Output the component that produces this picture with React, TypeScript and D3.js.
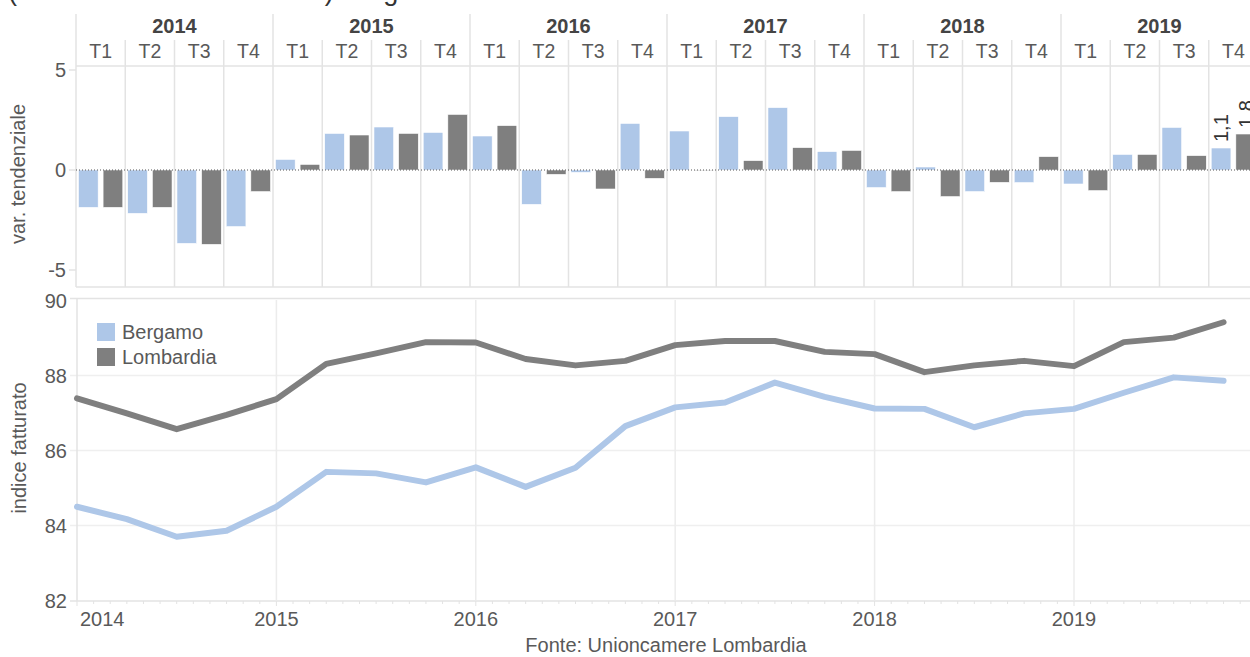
import React from 'react';
import * as d3 from 'd3';

const years = ['2014', '2015', '2016', '2017', '2018', '2019'];
const quarters = ['T1', 'T2', 'T3', 'T4'];
const seriesNames = ['Bergamo', 'Lombardia'];
const seriesColors = ['#aec7e8', '#7f7f7f'];

// variazione tendenziale (%), per trimestre 2014T1..2019T4
const varBergamo = [-1.87, -2.17, -3.67, -2.83, 0.53, 1.83, 2.15, 1.88, 1.7, -1.72, -0.12, 2.33, 1.95, 2.67, 3.12, 0.92, -0.88, 0.15, -1.08, -0.63, -0.7, 0.78, 2.13, 1.1];
const varLombardia = [-1.87, -1.87, -3.72, -1.08, 0.28, 1.75, 1.83, 2.78, 2.22, -0.22, -0.95, -0.42, -0.03, 0.47, 1.12, 0.98, -1.08, -1.33, -0.62, 0.67, -1.03, 0.78, 0.72, 1.8];

// indice fatturato, per trimestre 2014T1..2019T4
const idxBergamo = [84.5, 84.17, 83.7, 83.86, 84.5, 85.43, 85.39, 85.15, 85.55, 85.03, 85.54, 86.65, 87.15, 87.28, 87.81, 87.43, 87.12, 87.11, 86.62, 86.99, 87.11, 87.54, 87.95, 87.86];
const idxLombardia = [87.39, 86.99, 86.57, 86.95, 87.37, 88.31, 88.59, 88.89, 88.88, 88.44, 88.27, 88.39, 88.81, 88.92, 88.92, 88.63, 88.57, 88.09, 88.27, 88.39, 88.25, 88.89, 89.01, 89.42];

const varTicks = [5, 0, -5];
const idxTicks = [82, 84, 86, 88, 90];
const idxGrid = [84, 86, 88];
const timeTicks = [2014, 2015, 2016, 2017, 2018, 2019];
const labelledQuarter = 23;

const FONT = '"Liberation Sans", Arial, sans-serif';
const TXT = '#595959';
const GRID = '#e3e3e3';
const FS = 20;

const it = d3.formatLocale({ decimal: ',', thousands: '.', grouping: [3], currency: ['', '€'] });
const fmt = it.format('.1f');

export default function App() {
  const W = 1250, H = 657;
  // top panel
  const left = 76;
  const qW = 49.25;
  const nQ = years.length * quarters.length;
  const qIdx = d3.range(nQ);
  const xQ = d3.scaleBand<number>().domain(qIdx).range([left, left + nQ * qW]).padding(0);
  const xS = d3.scaleBand<string>().domain(seriesNames).range([0, qW]).paddingInner(0.2).paddingOuter(0.1);
  const yV = d3.scaleLinear().domain([-5, 5]).range([270, 70]);
  const topBottom = 287;
  const headerLine = 66;

  // bottom panel
  const bLeft = 77;
  const xT = d3.scaleLinear().domain([2014, 2020]).range([bLeft, bLeft + 6 * 199.4]);
  const yI = d3.scaleLinear().domain([82, 90]).range([600.5, 300.5]);
  const lineGen = d3.line<number>().x((_, i) => xT(2014 + i / 4)).y((d) => yI(d));
  const months = d3.range(0, 6 * 12 + 1).map((m) => 2014 + m / 12);

  const varSeries = [varBergamo, varLombardia];
  const idxSeries = [idxBergamo, idxLombardia];

  return (
    <svg width={W} height={H} style={{ position: 'absolute', left: 0, top: 0, background: '#fff' }} fontFamily={FONT}>
      {/* cropped title */}
      <text x={8} y={-0.5} fontSize={27} fill="#333">(indice fatturato industriale) Bergamo</text>

      {/* ===== TOP PANEL ===== */}
      {years.map((y, i) => {
        const x0 = xQ(i * 4)!;
        return (
          <g key={y}>
            <line x1={x0} x2={x0} y1={14} y2={topBottom} stroke={GRID} strokeWidth={1.5} />
            <text x={x0 + 2 * qW} y={33} textAnchor="middle" fontSize={FS} fontWeight="bold" fill="#444">{y}</text>
          </g>
        );
      })}
      {qIdx.map((q) => {
        const x0 = xQ(q)!;
        return (
          <g key={q}>
            {q % 4 !== 0 && <line x1={x0} x2={x0} y1={40} y2={topBottom} stroke={GRID} strokeWidth={1.5} />}
            <text x={x0 + qW / 2} y={58} textAnchor="middle" fontSize={19.5} fill={TXT}>{quarters[q % 4]}</text>
          </g>
        );
      })}
      <line x1={left} x2={W} y1={headerLine} y2={headerLine} stroke={GRID} strokeWidth={1.5} />
      <line x1={left} x2={W} y1={topBottom} y2={topBottom} stroke={GRID} strokeWidth={1.5} />

      {varTicks.map((t) => (
        <g key={t}>
          <line x1={69} x2={left} y1={yV(t)} y2={yV(t)} stroke={GRID} strokeWidth={1.5} />
          <text x={66} y={yV(t)} dy="0.35em" textAnchor="end" fontSize={FS} fill={TXT}>{t}</text>
        </g>
      ))}
      <text transform={`translate(25,174) rotate(-90)`} textAnchor="middle" fontSize={FS} fill={TXT}>var. tendenziale</text>

      {varSeries.map((vals, s) => (
        <g key={s}>
          {vals.map((v, q) => {
            const x = xQ(q)! + xS(seriesNames[s])!;
            const y0 = yV(0), y1 = yV(v);
            return (
              <rect key={q} x={x} y={Math.min(y0, y1)} width={xS.bandwidth()} height={Math.max(0.8, Math.abs(y1 - y0))}
                fill={seriesColors[s]} stroke="#fff" strokeWidth={0.6} />
            );
          })}
        </g>
      ))}
      <line x1={left} x2={W} y1={yV(0)} y2={yV(0)} stroke="#555" strokeWidth={1} strokeDasharray="1,2" />

      {varSeries.map((vals, s) => {
        const v = vals[labelledQuarter];
        const cx = xQ(labelledQuarter)! + xS(seriesNames[s])! + xS.bandwidth() / 2;
        const y = yV(Math.max(0, v)) - 6;
        return (
          <text key={s} transform={`translate(${cx},${y}) rotate(-90)`} dy="0.35em" fontSize={FS} fill="#333">{fmt(v)}</text>
        );
      })}

      {/* ===== BOTTOM PANEL ===== */}
      <line x1={70} x2={W} y1={298.5} y2={298.5} stroke={GRID} strokeWidth={1.5} />
      {idxGrid.map((t) => (
        <line key={t} x1={70} x2={W} y1={yI(t)} y2={yI(t)} stroke="#efefef" strokeWidth={1.5} />
      ))}
      {timeTicks.slice(1).map((t) => (
        <line key={t} x1={xT(t)} x2={xT(t)} y1={300} y2={600} stroke="#ececec" strokeWidth={1.5} />
      ))}
      <line x1={bLeft} x2={bLeft} y1={299} y2={601} stroke={GRID} strokeWidth={1.5} />
      <line x1={70} x2={W} y1={601} y2={601} stroke={GRID} strokeWidth={1.5} />
      {months.map((m, i) => (
        <line key={i} x1={xT(m)} x2={xT(m)} y1={601} y2={i % 12 === 0 ? 606 : 604} stroke={GRID} strokeWidth={1} />
      ))}
      {idxTicks.map((t) => (
        <text key={t} x={67} y={yI(t)} dy="0.35em" textAnchor="end" fontSize={FS} fill={TXT}>{t}</text>
      ))}
      {timeTicks.map((t, i) => (
        <text key={t} x={i === 0 ? xT(t) + 3 : xT(t)} y={626} textAnchor={i === 0 ? 'start' : 'middle'} fontSize={FS} fill={TXT}>{t}</text>
      ))}
      <text transform={`translate(26,448) rotate(-90)`} textAnchor="middle" fontSize={FS} fill={TXT}>indice fatturato</text>

      {idxSeries.map((vals, s) => (
        <path key={s} d={lineGen(vals)!} fill="none" stroke={seriesColors[s]} strokeWidth={6} strokeLinejoin="round" strokeLinecap="round" />
      ))}

      {seriesNames.map((n, i) => (
        <g key={n} transform={`translate(97,${323 + i * 25})`}>
          <rect x={0} y={0} width={18} height={18} fill={seriesColors[i]} />
          <text x={25} y={15.5} fontSize={FS} fill={TXT}>{n}</text>
        </g>
      ))}

      <text x={666} y={652} textAnchor="middle" fontSize={FS} fill={TXT}>Fonte: Unioncamere Lombardia</text>
    </svg>
  );
}
